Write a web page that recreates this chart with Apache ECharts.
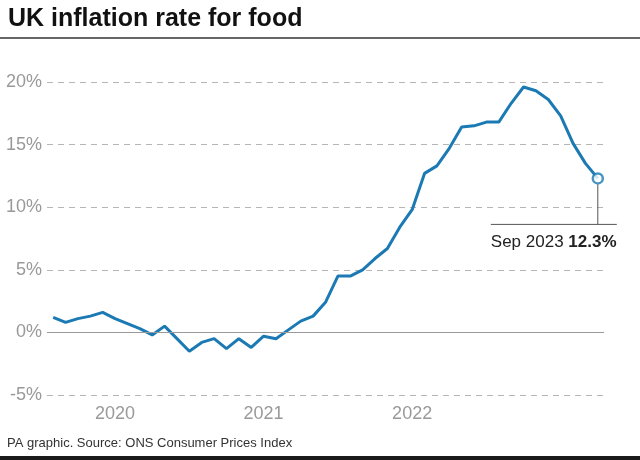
<!DOCTYPE html>
<html><head><meta charset="utf-8">
<script src="https://cdn.jsdelivr.net/npm/echarts@6/dist/echarts.min.js"></script>
<style>html,body{margin:0;padding:0;background:#fff}#c{width:640px;height:460px}</style>
</head><body><div id="c"></div>
<script>
const categories = [
  'Jan 2020','Feb 2020','Mar 2020','Apr 2020','May 2020','Jun 2020','Jul 2020','Aug 2020','Sep 2020','Oct 2020','Nov 2020','Dec 2020',
  'Jan 2021','Feb 2021','Mar 2021','Apr 2021','May 2021','Jun 2021','Jul 2021','Aug 2021','Sep 2021','Oct 2021','Nov 2021','Dec 2021',
  'Jan 2022','Feb 2022','Mar 2022','Apr 2022','May 2022','Jun 2022','Jul 2022','Aug 2022','Sep 2022','Oct 2022','Nov 2022','Dec 2022',
  'Jan 2023','Feb 2023','Mar 2023','Apr 2023','May 2023','Jun 2023','Jul 2023','Aug 2023','Sep 2023'
];
const foodInflation = [
  1.2, 0.8, 1.1, 1.3, 1.6, 1.1, 0.7, 0.3, -0.2, 0.5, -0.5, -1.5,
  -0.8, -0.5, -1.3, -0.5, -1.2, -0.3, -0.5, 0.2, 0.9, 1.3, 2.4, 4.5,
  4.5, 5.0, 5.9, 6.7, 8.4, 9.8, 12.7, 13.3, 14.7, 16.4, 16.5, 16.8,
  16.8, 18.3, 19.6, 19.3, 18.6, 17.3, 15.1, 13.5, 12.3
];
const yTickValues = [-5, 0, 5, 10, 15, 20];
const xTickLabels = { 'Jun 2020': '2020', 'Jun 2021': '2021', 'Jun 2022': '2022' };
const titleText = 'UK inflation rate for food';
const sourceText = 'PA graphic. Source: ONS Consumer Prices Index';

const FONT = '"Liberation Sans", Arial, Helvetica, sans-serif';
const BLUE = '#1b7ab3';
const last = foodInflation.length - 1;

const chart = echarts.init(document.getElementById('c'), null, { renderer: 'canvas' });

const option = {
  animation: false,
  backgroundColor: '#fff',
  textStyle: { fontFamily: FONT },
  grid: { left: 47, right: 36, top: 82, bottom: 65, containLabel: false },
  xAxis: {
    type: 'category',
    data: categories,
    boundaryGap: true,
    axisLine: { show: false },
    axisTick: { show: false },
    splitLine: { show: false },
    axisLabel: {
      interval: (idx, val) => xTickLabels[val] !== undefined,
      formatter: (val) => xTickLabels[val] || '',
      color: '#999',
      fontSize: 18,
      fontFamily: FONT,
      margin: 10
    }
  },
  yAxis: {
    type: 'value',
    min: yTickValues[0],
    max: yTickValues[yTickValues.length - 1],
    interval: 5,
    axisLine: { show: false },
    axisTick: { show: false },
    axisLabel: {
      formatter: '{value}%',
      color: '#999',
      fontSize: 18,
      fontFamily: FONT,
      margin: 5
    },
    splitLine: { show: true, lineStyle: { color: '#b5b5b5', type: [6, 5], width: 1 } }
  },
  series: [
    {
      type: 'line',
      data: foodInflation,
      symbol: 'none',
      lineStyle: { color: BLUE, width: 3 },
      z: 3,
      markLine: {
        silent: true,
        symbol: ['none', 'none'],
        label: { show: false },
        lineStyle: { color: '#9a9a9a', type: 'solid', width: 1 },
        data: [{ yAxis: 0 }]
      }
    },
    {
      type: 'scatter',
      data: [[categories[last], foodInflation[last]]],
      symbol: 'circle',
      symbolSize: 10,
      itemStyle: { color: '#fff', borderColor: BLUE, borderWidth: 2.5 },
      z: 5
    }
  ]
};
chart.setOption(option);

const p = chart.convertToPixel({ seriesIndex: 0 }, [last, foodInflation[last]]);
const lineY = p[1] + 46;
chart.setOption({
  graphic: [
    { type: 'text', left: 8, top: 7, style: { text: titleText, font: 'bold 25px ' + FONT, fill: '#111' } },
    { type: 'line', shape: { x1: 0, y1: 38, x2: 640, y2: 38 }, style: { stroke: '#333', lineWidth: 1.5 } },
    { type: 'text', left: 7, top: 437, style: { text: sourceText, font: '13px ' + FONT, fill: '#333' } },
    { type: 'rect', shape: { x: 0, y: 456, width: 640, height: 4 }, style: { fill: '#1a1a1a' } },
    { type: 'line', shape: { x1: p[0], y1: p[1] + 6, x2: p[0], y2: lineY }, style: { stroke: '#555', lineWidth: 1 } },
    { type: 'line', shape: { x1: p[0] - 107, y1: lineY, x2: p[0] + 19, y2: lineY }, style: { stroke: '#555', lineWidth: 1 } },
    {
      type: 'text', x: p[0] - 107, y: lineY + 18,
      style: {
        text: '{n|' + categories[last] + ' }{b|' + foodInflation[last].toFixed(1) + '%}',
        verticalAlign: 'middle', align: 'left',
        rich: {
          n: { font: '17px ' + FONT, fill: '#222' },
          b: { font: 'bold 17px ' + FONT, fill: '#222' }
        }
      }
    }
  ]
});
</script>
</body></html>
